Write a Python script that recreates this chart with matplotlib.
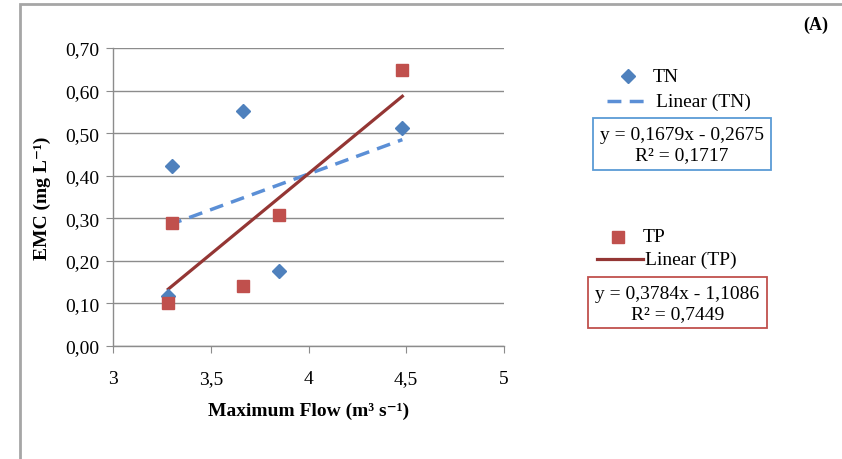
import matplotlib
matplotlib.use("Agg")
import matplotlib.pyplot as plt
import matplotlib.patches as mpatches
import numpy as np

# Event data: maximum flow vs event mean concentration
max_flow = [3.283, 3.303, 3.663, 3.851, 4.480]
tn_emc = [0.118, 0.422, 0.552, 0.177, 0.512]
tp_emc = [0.102, 0.290, 0.141, 0.307, 0.648]

# Linear trend coefficients (slope, intercept) and R²
tn_fit = (0.1679, -0.2675)
tn_r2 = 0.1717
tp_fit = (0.3784, -1.1086)
tp_r2 = 0.7449

x_ticks = [3, 3.5, 4, 4.5, 5]
y_ticks = [0.0, 0.1, 0.2, 0.3, 0.4, 0.5, 0.6, 0.7]

W, H = 842, 460
plt.rcParams['font.family'] = ['Liberation Serif', 'DejaVu Serif']
fig = plt.figure(figsize=(W / 100, H / 100), dpi=100)


def fx(px):
    return px / W


def fy(py):
    return 1 - py / H


def comma(v, nd):
    return f"{v:.{nd}f}".replace(".", ",")


# outer chart frame
fig.patches.append(mpatches.Rectangle((fx(20), fy(470)), fx(900), fy(5) - fy(470),
                                      transform=fig.transFigure, fill=False,
                                      edgecolor="#A6A6A6", linewidth=2))

ax = fig.add_axes([fx(113), fy(347), fx(504) - fx(113), fy(49) - fy(347)])
ax.set_xlim(3, 5)
ax.set_ylim(0, 0.7)
ax.set_xticks(x_ticks)
ax.set_yticks(y_ticks)
ax.set_xticklabels([comma(v, 1).replace(",0", "") for v in x_ticks])
ax.set_yticklabels([comma(v, 2) for v in y_ticks])
ax.grid(axis="y", color="#8C8C8C", linewidth=1)
ax.set_axisbelow(True)
for s in ("top", "right"):
    ax.spines[s].set_visible(False)
for s in ("left", "bottom"):
    ax.spines[s].set_color("#8C8C8C")
    ax.spines[s].set_linewidth(1)
ax.tick_params(axis="both", direction="out", length=5, color="#8C8C8C",
               labelsize=14)
ax.tick_params(axis="y", pad=5)
ax.tick_params(axis="x", pad=12)

xs = np.array([min(max_flow), max(max_flow)])
ax.plot(max_flow, tn_emc, linestyle="none", marker="D", markersize=7,
        color="#4F81BD", zorder=3)
ax.plot(max_flow, tp_emc, linestyle="none", marker="s", markersize=9,
        color="#C0504D", zorder=3)
ax.plot(xs, tn_fit[0] * xs + tn_fit[1], color="#5B8FD6", linewidth=2.5,
        dashes=(4, 2.4), zorder=2)
ax.plot(xs, tp_fit[0] * xs + tp_fit[1], color="#943634", linewidth=2.3, zorder=2)

ax.set_xlabel("Maximum Flow (m³ s⁻¹)", fontsize=14, fontweight="bold", labelpad=11)
ax.set_ylabel("EMC (mg L⁻¹)", fontsize=14, fontweight="bold", labelpad=10)

# legend entries
fig.lines.append(plt.Line2D([fx(628)], [fy(77)], marker="D", markersize=7,
                            color="#4F81BD", transform=fig.transFigure))
fig.text(fx(653), fy(77), "TN", fontsize=14, va="center", ha="left")
fig.lines.append(plt.Line2D([fx(607), fx(648)], [fy(102), fy(102)], color="#5B8FD6",
                            linewidth=2.5, dashes=(4, 2.4), transform=fig.transFigure))
fig.text(fx(656), fy(102), "Linear (TN)", fontsize=14, va="center", ha="left")

fig.lines.append(plt.Line2D([fx(618)], [fy(238)], marker="s", markersize=9,
                            color="#C0504D", transform=fig.transFigure))
fig.text(fx(643), fy(238), "TP", fontsize=14, va="center", ha="left")
fig.lines.append(plt.Line2D([fx(597), fx(643)], [fy(260), fy(260)], color="#943634",
                            linewidth=2.3, transform=fig.transFigure))
fig.text(fx(645), fy(260), "Linear (TP)", fontsize=14, va="center", ha="left")


def eq_box(x0, y0, x1, y1, fit, r2, color):
    fig.patches.append(mpatches.Rectangle((fx(x0), fy(y1)), fx(x1) - fx(x0), fy(y0) - fy(y1),
                                          transform=fig.transFigure, fill=False,
                                          edgecolor=color, linewidth=1.3))
    sign = "-" if fit[1] < 0 else "+"
    cx = (x0 + x1) / 2
    fig.text(fx(cx), fy(y0 + 17), f"y = {comma(fit[0], 4)}x {sign} {comma(abs(fit[1]), 4)}",
             fontsize=14, ha="center", va="center")
    fig.text(fx(cx), fy(y0 + 37), f"R² = {comma(r2, 4)}",
             fontsize=14, ha="center", va="center")


eq_box(593, 119, 771, 171, tn_fit, tn_r2, "#5B9BD5")
eq_box(588, 278, 767, 329, tp_fit, tp_r2, "#C0504D")

fig.text(fx(816), fy(25), "(A)", fontsize=13, fontweight="bold", ha="center", va="center")

fig.savefig("out.png", dpi=100)
